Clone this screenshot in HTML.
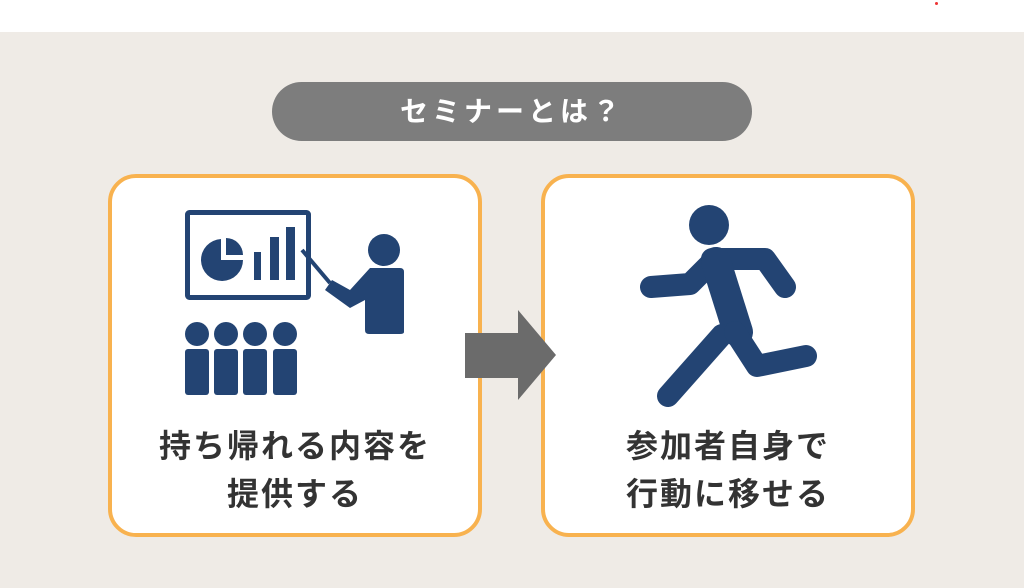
<!DOCTYPE html>
<html><head><meta charset="utf-8"><style>
body{margin:0;width:1024px;height:588px;overflow:hidden;background:#fff;font-family:"Liberation Sans","Noto Sans CJK JP",sans-serif;}
.bg{position:absolute;left:0;top:32px;width:1024px;height:556px;background:#efebe6;}
.pill{position:absolute;left:272px;top:82px;width:480px;height:59px;border-radius:30px;background:#7d7d7d;color:#fff;font-size:28px;font-weight:bold;letter-spacing:4px;text-align:center;line-height:59px;}
.box{position:absolute;top:174px;width:366px;height:355px;border:4px solid #f8b24f;border-radius:28px;background:#fff;}
.t{position:absolute;left:0;width:100%;text-align:center;font-size:32px;font-weight:bold;color:#333;line-height:48px;letter-spacing:2px;}
</style></head><body>
<div class="bg"></div>
<div style="position:absolute;left:935px;top:2px;width:3px;height:3px;background:#e33;border-radius:50%"></div>
<div class="pill">セミナーとは？</div>
<div class="box" style="left:108px"><div class="t" style="top:244px">持ち帰れる内容を<br>提供する</div></div>
<div class="box" style="left:541px"><div class="t" style="top:244px">参加者自身で<br>行動に移せる</div></div>
<svg width="1024" height="588" style="position:absolute;left:0;top:0">
<g fill="#234473">
<rect x="187.5" y="212.5" width="121" height="85" fill="none" stroke="#234473" stroke-width="5" rx="2"/>
<path d="M221 260 L221 239 A21 21 0 1 0 243 260 Z"/>
<path d="M226 255 L226 238 A17 17 0 0 1 243 255 Z"/>
<rect x="254" y="252" width="7" height="28"/>
<rect x="270" y="237" width="9" height="43"/>
<rect x="286" y="227" width="9" height="53"/>
<line x1="302" y1="250" x2="330" y2="283" stroke="#234473" stroke-width="4"/>
<circle cx="384" cy="250" r="16"/>
<path d="M370 268 L400 268 Q404 268 404 272 L404 332 Q404 334 400 334 L369 334 Q365 334 365 330 L365 300 L350 308 L325 290 L332 280 L350 290 Z"/>
<circle cx="197" cy="334" r="12"/><circle cx="226" cy="334" r="12"/><circle cx="255" cy="334" r="12"/><circle cx="285" cy="334" r="12"/>
<rect x="185" y="349" width="24" height="46" rx="3"/><rect x="214" y="349" width="24" height="46" rx="3"/><rect x="243" y="349" width="24" height="46" rx="3"/><rect x="273" y="349" width="24" height="46" rx="3"/>
<circle cx="709" cy="225" r="20"/>
</g>
<g stroke="#234473" stroke-linecap="round" stroke-linejoin="round" fill="none">
<polyline points="651,287 690,284 712,262" stroke-width="22"/>
<polyline points="712,259 765,259 785,287" stroke-width="22"/>
<line x1="716" y1="262" x2="738" y2="332" stroke-width="30"/>
<line x1="722" y1="335" x2="668" y2="396" stroke-width="22"/>
<polyline points="735,332 757,366 806,356" stroke-width="22"/>
</g>
<path d="M465 333 L518 333 L518 310 L556 355 L518 400 L518 378 L465 378 Z" fill="#6b6b6b"/>
</svg>
</body></html>
